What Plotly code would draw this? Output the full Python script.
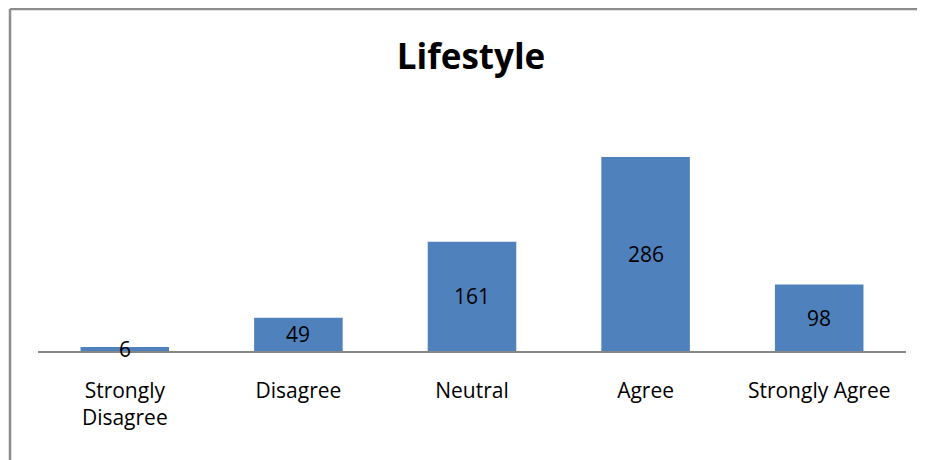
import plotly.graph_objects as go

categories = ["Strongly<br>Disagree", "Disagree", "Neutral", "Agree", "Strongly Agree"]
values = [6, 49, 161, 286, 98]
title_text = "Lifestyle"

W, H = 925, 460
OFF = 8  # page body margin offset
ml, mr, mt, mb = 38 - OFF, 19 + OFF, 100 - OFF, 109 + OFF
ymax = 370

fig = go.Figure()
fig.add_trace(go.Bar(
    x=categories, y=values, marker=dict(color="#4f81bd", line=dict(width=0)),
    width=0.51, textposition="none", hoverinfo="x+y",
))
for c, v in zip(categories, values):
    fig.add_annotation(x=c, y=v / 2, text=str(v), showarrow=False,
                       font=dict(size=21, color="#000000", family="Open Sans"),
                       xref="x", yref="y")

pw = W - ml - mr
ph = H - mt - mb
def px_to_paper_x(px):
    return (px - OFF - ml) / pw
def px_to_paper_y(py):
    return (H - mb - (py - OFF)) / ph

x0 = px_to_paper_x(10)
y0 = px_to_paper_y(9)
fig.add_shape(type="line", xref="paper", yref="paper", x0=x0, x1=x0,
              y0=px_to_paper_y(490), y1=y0, line=dict(color="#8c8c8c", width=2.5))
fig.add_shape(type="line", xref="paper", yref="paper", x0=x0, x1=px_to_paper_x(950),
              y0=y0, y1=y0, line=dict(color="#8c8c8c", width=2.5))

fig.update_layout(
    width=W, height=H,
    margin=dict(l=ml, r=mr, t=mt, b=mb),
    paper_bgcolor="white", plot_bgcolor="white",
    title=dict(text="<b>" + title_text + "</b>", x=px_to_paper_x(471), xref="paper",
               xanchor="center", y=1 - (57 - OFF) / H, yanchor="middle",
               font=dict(size=35, family="Open Sans", color="#000000")),
    showlegend=False,
    font=dict(family="Open Sans", color="#000000"),
)
fig.update_xaxes(showline=True, linecolor="#868686", linewidth=1.5, showgrid=False,
                 ticks="", tickfont=dict(size=21, family="Open Sans", color="#000000"),
                 ticklabelstandoff=20)
fig.update_yaxes(range=[0, ymax], visible=False, showgrid=False, zeroline=False)

fig.write_html("out.html")
